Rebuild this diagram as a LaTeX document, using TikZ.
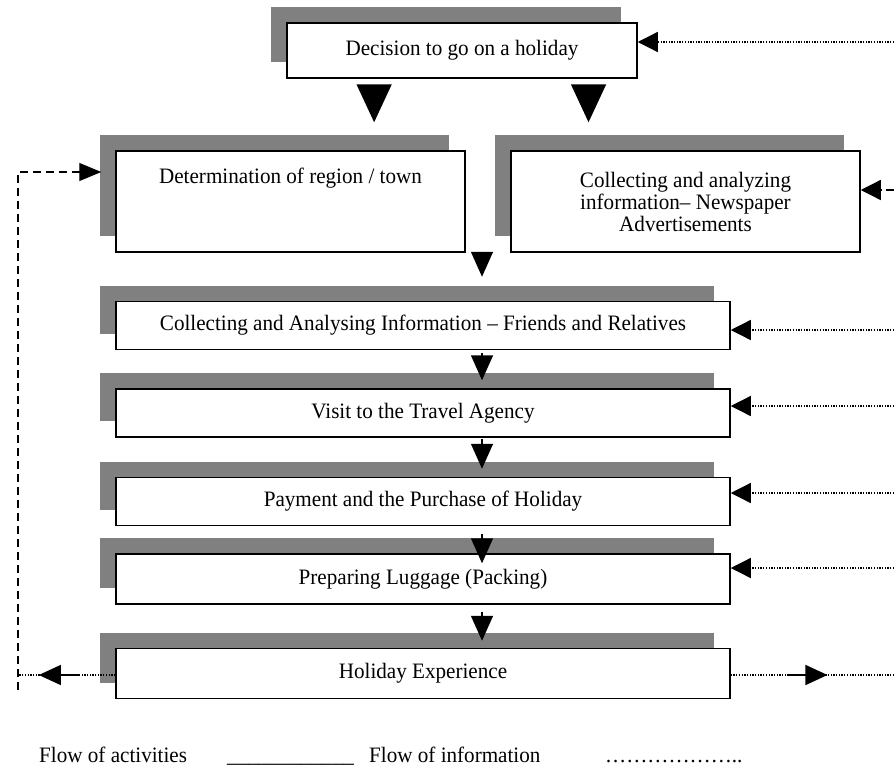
\documentclass[tikz,border=0pt]{standalone}
\usepackage{fontspec}
\setmainfont{Liberation Serif}[FakeStretch=0.96]
\usepackage{tikz}
\usetikzlibrary{positioning,shadows,arrows.meta,calc,decorations.markings}

\tikzset{
  stage/.style={draw, line width=1.5pt, fill=white, align=center, inner sep=2pt,
    font=\fontsize{22}{22}\selectfont,
    general shadow={fill=black!50, shadow xshift=-16pt, shadow yshift=16pt}},
  widestage/.style={stage, minimum width=614pt, minimum height=48pt},
  bigflow/.style={line width=1.5pt, -{Triangle[width=35pt,length=38pt]}},
  flow/.style={line width=1.5pt, -{Triangle[width=22pt,length=25pt]}},
  infoline/.style={line width=1.3pt, dash pattern=on 1.3pt off 1.4pt},
  info/.style={infoline, -{Triangle[width=20pt,length=20pt]}},
  midtip/.style={postaction={decorate, decoration={markings,
    mark=at position #1 with {\draw[solid, line width=1.5pt, -{Triangle[width=20pt,length=22pt]}] (-20pt,0) -- (20pt,0);}}}},
  feedback/.style={line width=1.2pt, dash pattern=on 8pt off 5pt, -{Triangle[width=18pt,length=22pt]}},
  legend/.style={font=\fontsize{22}{22}\selectfont, anchor=base west, inner sep=0pt}
}

\begin{document}
\begin{tikzpicture}[x=1pt,y=-1pt]
  \useasboundingbox (0,0) rectangle (894,766);
  % stages of the holiday purchase
  \node[stage, minimum width=350pt, minimum height=55pt] (dec) at (462,50.5) {Decision to go on a holiday};
  \node[stage, minimum width=349pt, minimum height=101pt] (det) at (290.5,201.5) {Determination of region / town\\ \strut\\ \strut};
  \node[stage, minimum width=349pt, minimum height=101pt] (news) at (685.5,201.5) {Collecting and analyzing\\information– Newspaper\\Advertisements};
  \node[widestage] (friends) at (423,325.5) {Collecting and Analysing Information – Friends and Relatives};
  \node[widestage, below=38pt of friends] (agency) {Visit to the Travel Agency};
  \node[widestage, below=39pt of agency] (payment) {Payment and the Purchase of Holiday};
  \node[widestage, below=27pt of payment, minimum height=50pt] (luggage) {Preparing Luggage (Packing)};
  \node[widestage, below=43pt of luggage, minimum height=50pt] (experience) {Holiday Experience};

  % flow of activities
  \coordinate (spine) at (482,0);
  \draw[bigflow, shorten <=6pt, shorten >=28pt] ($(dec.south west)!0.25!(dec.south east)$) coordinate (d1) -- (d1 |- det.north);
  \draw[bigflow, shorten <=6pt, shorten >=28pt] ($(dec.south west)!0.86!(dec.south east)$) coordinate (d2) -- (d2 |- news.north);
  \draw[flow, shorten <=-3pt, shorten >=24pt] (det.south -| spine) -- (friends.north -| spine);
  \draw[flow, shorten <=3pt, shorten >=8pt] (friends.south -| spine) -- (agency.north -| spine);
  \draw[flow, shorten <=1pt, shorten >=8pt] (agency.south -| spine) -- (payment.north -| spine);
  \draw[flow, shorten <=8pt, shorten >=-10pt] (payment.south -| spine) -- (luggage.north -| spine);
  \draw[flow, shorten <=7pt, shorten >=7pt] (luggage.south -| spine) -- (experience.north -| spine);

  % flow of information
  \coordinate (src0) at (894,42);
  \draw[info] (src0) -- (src0 -| dec.east);
  \coordinate (src1) at (894,190);
  \draw[info, dash pattern=on 8pt off 4pt] (src1) -- (src1 -| news.east);
  \foreach \n/\y in {friends/330, agency/406, payment/493, luggage/568}{
    \coordinate (src-\n) at (894,\y);
    \draw[info] (src-\n) -- (src-\n -| \n.east);
  }
  \coordinate (outL) at (18,675);
  \coordinate (outR) at (894,675);
  \draw[infoline, midtip=0.58] (outL -| experience.west) -- (outL);
  \draw[infoline, midtip=0.47] (outR -| experience.east) -- (outR);

  % feedback to the choice of region
  \coordinate (fbbot) at (18,690);
  \coordinate (fbtop) at (18,172);
  \draw[feedback] (fbbot) -- (fbtop) -- ([xshift=-14pt]fbtop -| det.west);

  % legend
  \node[legend] (actlabel) at (39,762) {Flow of activities};
  \node[legend] (actline) at (227,762) {\_\_\_\_\_\_\_\_\_\_\_\_};
  \node[legend] (infolabel) at (369,762) {Flow of information};
  \node[legend] (infodots) at (605,762) {………………..};
\end{tikzpicture}
\end{document}
